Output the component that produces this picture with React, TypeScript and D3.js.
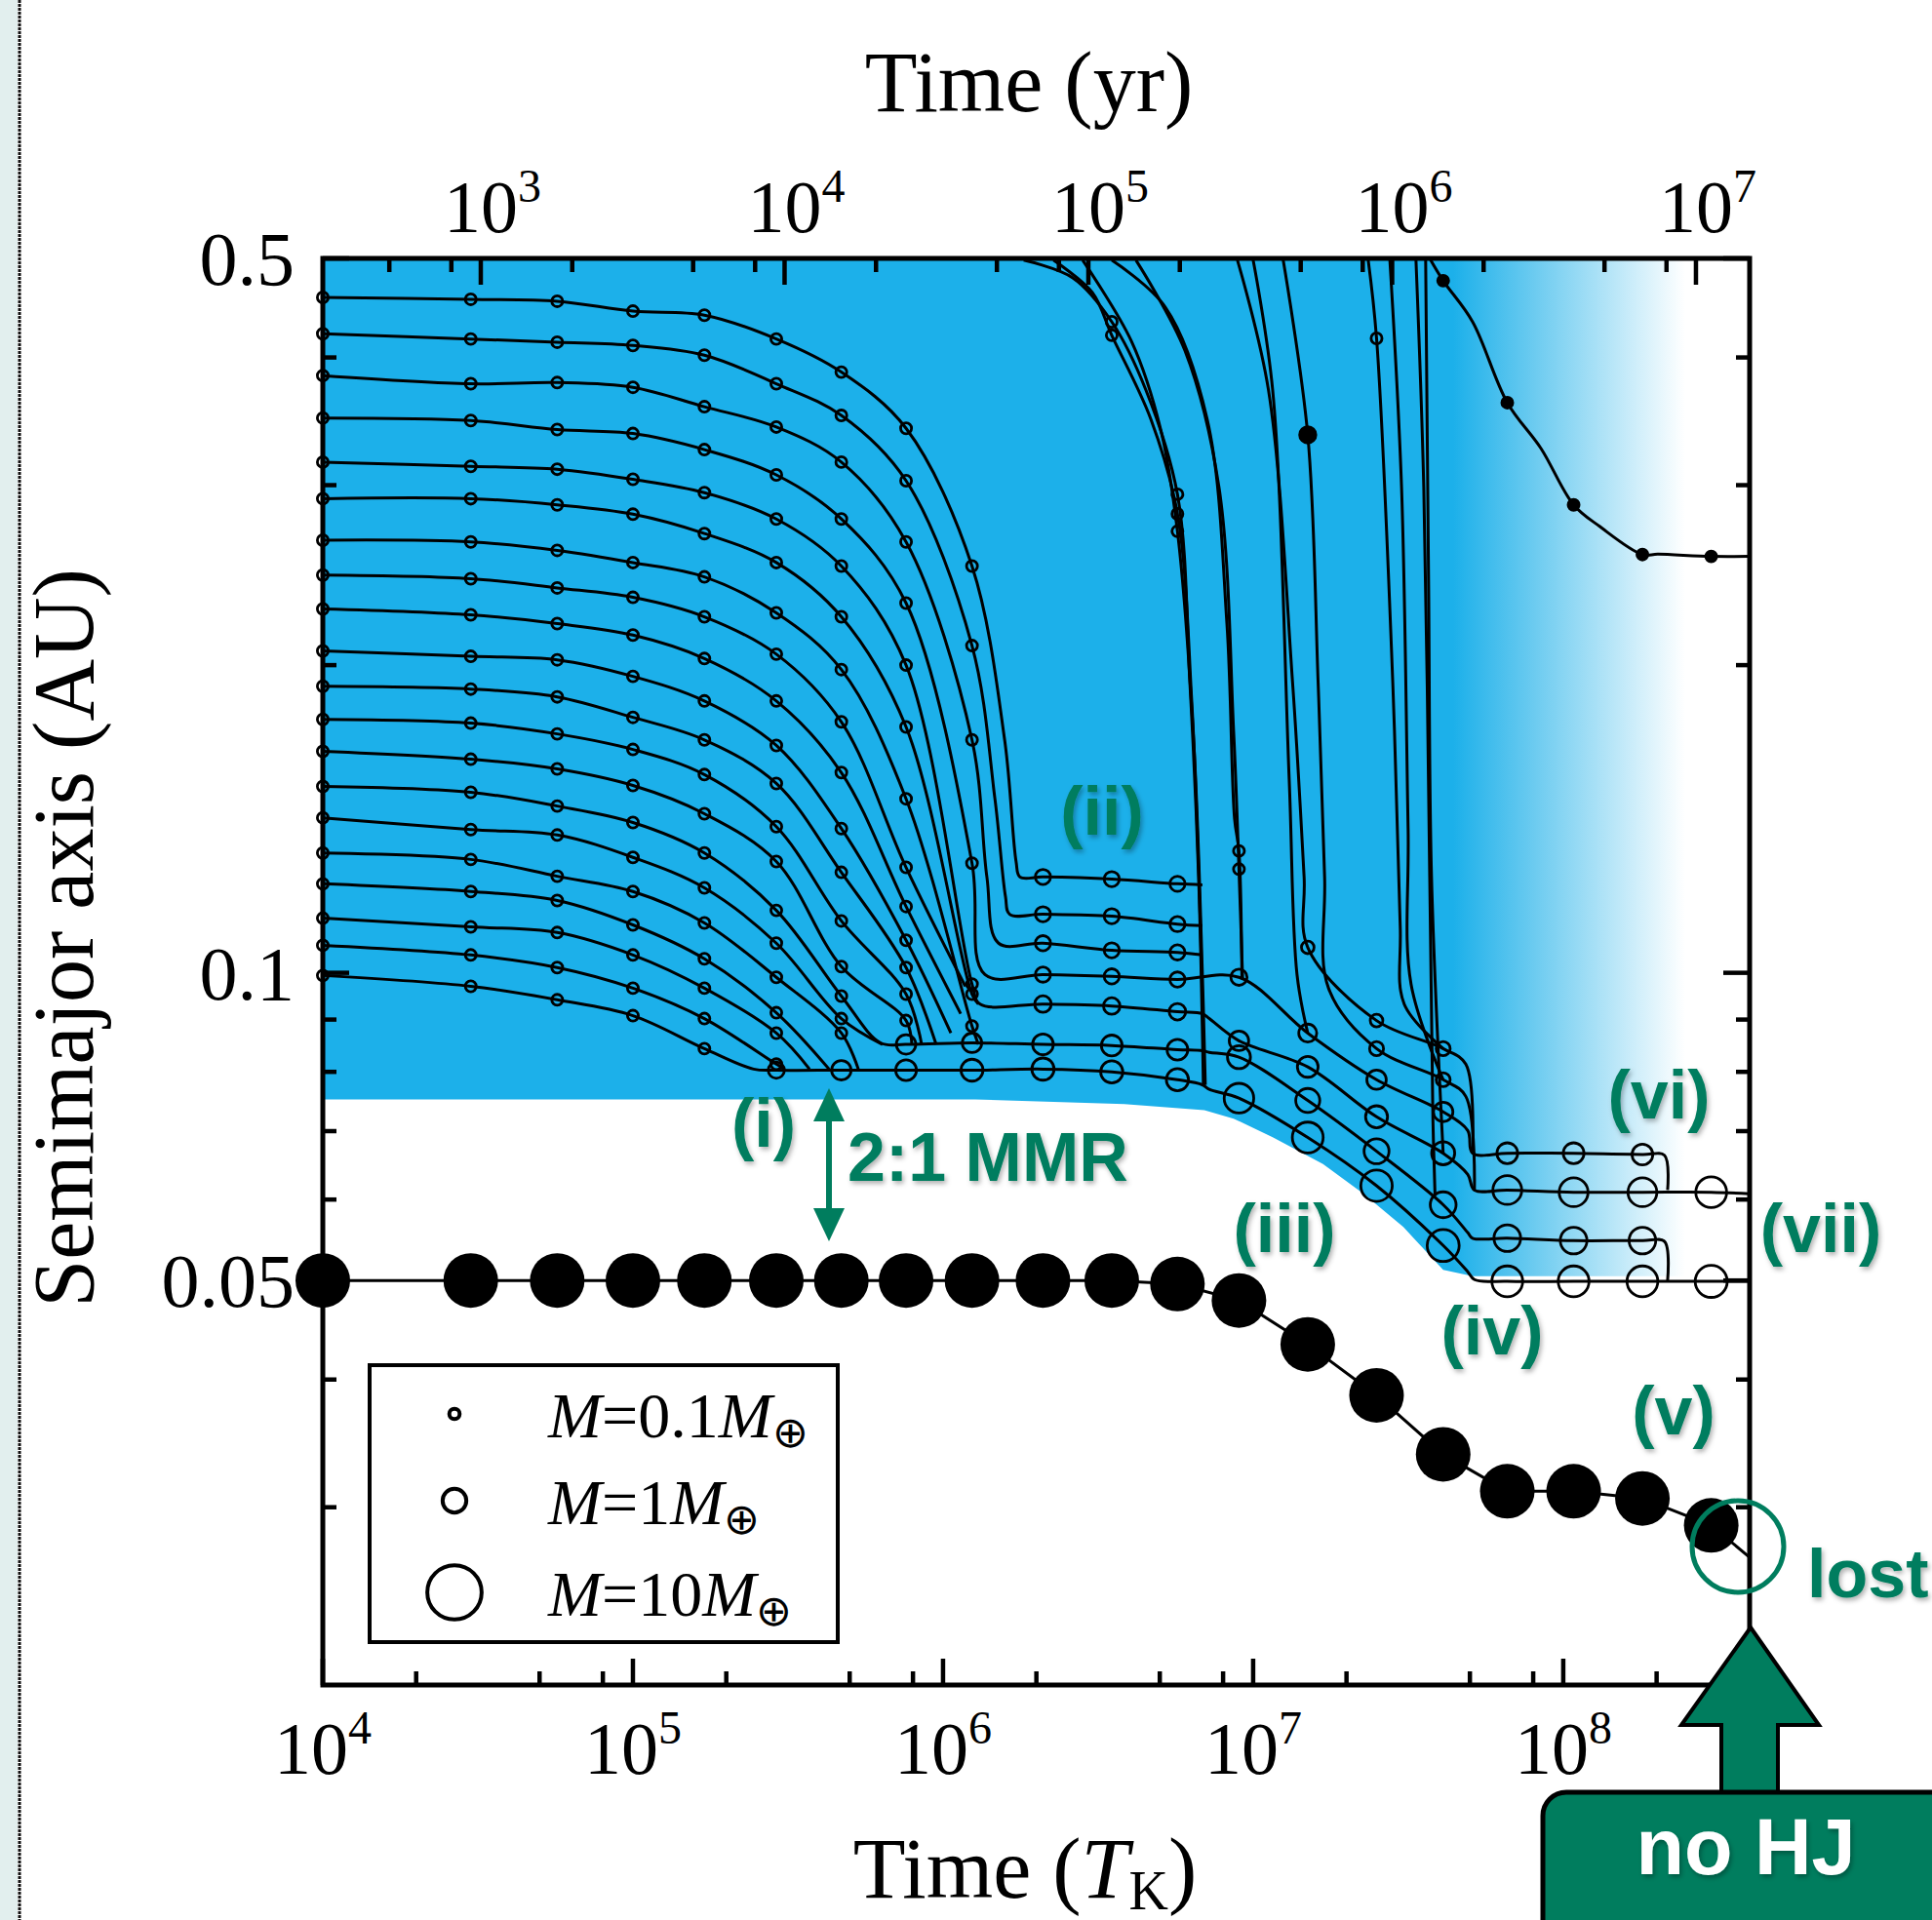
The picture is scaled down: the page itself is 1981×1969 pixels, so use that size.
import React from "react";
import * as d3 from "d3";

const W = 1981;
const H = 1969;
const X0 = 331, X1 = 1794, Y0 = 265, Y1 = 1728;

const BLUE = "#1cb0ea";
const GREEN = "#007d5e";
const SERIF = "'Liberation Serif', 'Times New Roman', serif";
const SANS = "'Liberation Sans', Arial, sans-serif";

// output times (T_K) at which every planet gets a marker
const snapTimes = [1e4, 3e4, 5.7e4, 1e5, 1.7e5, 2.9e5, 4.7e5, 7.6e5, 1.24e6, 2.1e6, 3.5e6, 5.7e6, 9e6, 1.5e7, 2.5e7, 4.1e7, 6.6e7, 1.08e8, 1.8e8, 3e8];

// [time (T_K), semimajor axis (AU), marker mass in M_earth (0 = no marker), solid marker]
type Pt = [number, number, number, boolean?];
type Track = { a: number[]; m: number; tail: Pt[] };

// inner disc planets: a at the first snapshots, then the rest of the path
const trackA: Track = { a: [0.458, 0.456, 0.454, 0.444, 0.440, 0.417, 0.387, 0.341, 0.250], m: 0.1,
  tail: [[1.58e6, 0.169, 0], [1.72e6, 0.1285, 0], [1.77e6, 0.1241, 0], [2.1e6, 0.1241, 0.25], [3.5e6, 0.1235, 0.25], [5.7e6, 0.1222, 0.25], [6.86e6, 0.1219, 0]] };
const trackB: Track = { a: [0.422, 0.417, 0.414, 0.411, 0.402, 0.377, 0.351, 0.303, 0.209], m: 0.1,
  tail: [[1.47e6, 0.148, 0], [1.59e6, 0.1187, 0], [1.64e6, 0.1141, 0], [2.1e6, 0.1141, 0.25], [3.5e6, 0.1136, 0.25], [5.7e6, 0.1116, 0.25], [6.86e6, 0.1112, 0]] };
const trackC: Track = { a: [0.384, 0.377, 0.378, 0.374, 0.358, 0.342, 0.316, 0.264, 0.169], m: 0.1,
  tail: [[1.385e6, 0.1241, 0], [1.51e6, 0.1069, 0], [2.1e6, 0.1069, 0.25], [3.5e6, 0.1052, 0.25], [5.7e6, 0.1047, 0.25], [6.86e6, 0.1041, 0]] };
const trackD: Track = { a: [0.349, 0.347, 0.340, 0.337, 0.325, 0.307, 0.278, 0.230, 0.128], m: 0.1,
  tail: [[1.365e6, 0.0996, 0], [2.1e6, 0.0996, 0.25], [3.5e6, 0.0992, 0.25], [5.7e6, 0.0985, 0.25], [9e6, 0.0990, 0.3],
    [1.5e7, 0.0873, 0.4], [2.5e7, 0.0786, 0.5], [4.1e7, 0.0731, 0.5], [4.92e7, 0.0701, 0], [5.1e7, 0.0666, 0],
    [6.6e7, 0.0666, 0.6], [1.08e8, 0.0666, 0.6], [1.8e8, 0.0664, 0.6], [2.12e8, 0.0663, 0], [2.17e8, 0.0613, 0]] };
const trackE: Track = { a: [0.316, 0.313, 0.311, 0.304, 0.295, 0.278, 0.250, 0.200, 0.0975], m: 0.1,
  tail: [[1.317e6, 0.0932, 0], [2.1e6, 0.0932, 0.32], [3.5e6, 0.0928, 0.32], [5.7e6, 0.0916, 0.32], [6.86e6, 0.0912, 0],
    [7.22e6, 0.0902, 0], [9e6, 0.0858, 0.5], [1.5e7, 0.0809, 0.6], [2.5e7, 0.0723, 0.7], [4.1e7, 0.0666, 0.8],
    [4.92e7, 0.0635, 0], [5.17e7, 0.0613, 0], [6.6e7, 0.0613, 1.5], [1.08e8, 0.0610, 1.5], [1.8e8, 0.0610, 1.5],
    [3e8, 0.0610, 1.8], [3.99e8, 0.0608, 0]] };
const trackF: Track = { a: [0.291, 0.291, 0.287, 0.281, 0.269, 0.252, 0.223, 0.174, 0.0953], m: 0.1, tail: [[1.30e6, 0.0932, 0]] };
const trackG: Track = { a: [0.265, 0.264, 0.259, 0.252, 0.244, 0.225, 0.198, 0.148, 0.0887], m: 0.1, tail: [[1.30e6, 0.0851, 0]] };
const trackH: Track = { a: [0.245, 0.243, 0.238, 0.233, 0.223, 0.205, 0.176, 0.1268], m: 0.1, tail: [[1.18e6, 0.0970, 0]] };
const trackI: Track = { a: [0.227, 0.224, 0.2196, 0.214, 0.203, 0.1845, 0.157, 0.1161], m: 0.1, tail: [[1.14e6, 0.0912, 0]] };
const trackJ: Track = { a: [0.2065, 0.204, 0.2024, 0.195, 0.1845, 0.1669, 0.1384, 0.1076], m: 0.1, tail: [[1.06e6, 0.0873, 0]] };
const trackK: Track = { a: [0.1907, 0.1895, 0.1862, 0.1778, 0.169, 0.1532, 0.1254, 0.1012], m: 0.1, tail: [[9.5e5, 0.0851, 0]] };
const trackL: Track = { a: [0.177, 0.1755, 0.1713, 0.1654, 0.1563, 0.139, 0.1124, 0.0953], m: 0.1, tail: [[8.53e5, 0.0851, 0]] };
const trackM: Track = { a: [0.1647, 0.1618, 0.1583, 0.1525, 0.1431, 0.1285, 0.1014, 0.0898], m: 0.1, tail: [[7.93e5, 0.0851, 0]] };
const trackN: Track = { a: [0.1522, 0.1502, 0.1456, 0.1403, 0.1310, 0.1151, 0.0949], m: 0.1,
  tail: [[6.29e5, 0.0854, 0], [7.6e5, 0.0851, 0.5], [1.24e6, 0.0854, 0.5], [2.1e6, 0.0851, 0.6], [3.5e6, 0.0849, 0.6],
    [5.7e6, 0.0841, 0.6], [6.86e6, 0.0839, 0], [7.22e6, 0.0836, 0], [9e6, 0.0827, 0.8], [1.5e7, 0.0750, 0.9],
    [2.5e7, 0.0669, 1], [4.1e7, 0.0593, 1.1], [4.92e7, 0.0557, 0], [5.1e7, 0.0550, 0], [6.6e7, 0.0550, 1.2],
    [1.08e8, 0.0547, 1.2], [1.8e8, 0.0547, 1.2], [2.12e8, 0.0546, 0], [2.17e8, 0.0500, 0]] };
const trackO: Track = { a: [0.1418, 0.1381, 0.1364, 0.1297, 0.1211, 0.1069, 0.0902], m: 0.1, tail: [[6.38e5, 0.0851, 0]] };
const trackP: Track = { a: [0.1310, 0.1291, 0.1243, 0.1201, 0.1119, 0.0990, 0.0873], m: 0.1, tail: [[5.33e5, 0.0805, 0]] };
const trackQ: Track = { a: [0.1222, 0.1201, 0.1177, 0.1114, 0.1032, 0.0914], m: 0.1, tail: [[4.29e5, 0.0805, 0]] };
const trackR: Track = { a: [0.1131, 0.1109, 0.1095, 0.1041, 0.0966, 0.0873], m: 0.1, tail: [[3.71e5, 0.0805, 0]] };
const trackS: Track = { a: [0.1064, 0.1041, 0.1012, 0.0966, 0.0902, 0.0814], m: 0.1, tail: [[3.09e5, 0.0805, 0]] };
const trackT: Track = { a: [0.0994, 0.0970, 0.0941, 0.0908, 0.0843], m: 0.1,
  tail: [[2.45e5, 0.0805, 0], [2.9e5, 0.0803, 0.3], [4.7e5, 0.0803, 0.5], [7.6e5, 0.0803, 0.6], [1.24e6, 0.0803, 0.7],
    [2.1e6, 0.0805, 0.72], [3.5e6, 0.0800, 0.72], [5.7e6, 0.0786, 0.72], [6.86e6, 0.0777, 0], [7.22e6, 0.0769, 0],
    [9e6, 0.0754, 1.6], [1.5e7, 0.0690, 1.8], [2.5e7, 0.0619, 1.9], [4.1e7, 0.0541, 2], [4.92e7, 0.0510, 0],
    [5.17e7, 0.0501, 0], [6.6e7, 0.0499, 1.8], [1.08e8, 0.0499, 1.8], [1.8e8, 0.0499, 1.8], [3e8, 0.0499, 2], [3.99e8, 0.0499, 0]] };

const discTracks = [trackA, trackB, trackC, trackD, trackE, trackF, trackG, trackH, trackI, trackJ,
  trackK, trackL, trackM, trackN, trackO, trackP, trackQ, trackR, trackS, trackT];

// planets plunging in from beyond 0.5 AU
const plungeA: Pt[] = [[1.82e6, 0.498, 0], [2.62e6, 0.4786, 0], [3.5e6, 0.4335, 0.1], [4.51e6, 0.3717, 0], [5.7e6, 0.2939, 0.1], [6.25e6, 0.1924, 0], [6.67e6, 0.1241, 0], [6.91e6, 0.0777, 0]];
const plungeB: Pt[] = [[2.27e6, 0.498, 0], [3.03e6, 0.463, 0], [3.5e6, 0.4205, 0.1], [4.68e6, 0.348, 0], [5.7e6, 0.2812, 0.1], [6.34e6, 0.1841, 0], [6.76e6, 0.1112, 0], [6.96e6, 0.0777, 0]];
const plungeC: Pt[] = [[2.82e6, 0.498, 0], [4.05e6, 0.415, 0], [5.03e6, 0.3404, 0], [5.7e6, 0.2704, 0.1], [6.43e6, 0.1687, 0], [6.86e6, 0.0996, 0], [7.01e6, 0.0777, 0]];
const plungeD: Pt[] = [[3.5e6, 0.498, 0], [5.21e6, 0.448, 0], [7.11e6, 0.348, 0], [8.23e6, 0.2196, 0], [8.71e6, 0.1415, 0], [9e6, 0.1316, 0.1], [9.2e6, 0.0987, 0]];
const plungeE: Pt[] = [[4.19e6, 0.498, 0], [6.03e6, 0.406, 0], [7.76e6, 0.2985, 0], [8.65e6, 0.1724, 0], [9e6, 0.1263, 0.1], [9.25e6, 0.0985, 0]];
const plungeF: Pt[] = [[8.9e6, 0.498, 0], [1.12e7, 0.372, 0], [1.34e7, 0.1924, 0], [1.46e7, 0.1241, 0], [1.5e7, 0.1059, 0.15], [2.5e7, 0.0898, 0.15], [4.1e7, 0.0843, 0.2], [4.85e7, 0.0814, 0], [5.1e7, 0.0666, 0]];
const plungeG: Pt[] = [[1e7, 0.498, 0], [1.156e7, 0.3717, 0], [1.307e7, 0.1545, 0], [1.385e7, 0.0996, 0], [1.5e7, 0.0873, 0]];
const plungeH: Pt[] = [[1.25e7, 0.498, 0], [1.5e7, 0.336, 0.3, true], [1.62e7, 0.1924, 0], [1.70e7, 0.1241, 0], [1.75e7, 0.0966, 0], [2.5e7, 0.0843, 0.2], [4.1e7, 0.0786, 0.2], [4.85e7, 0.0757, 0], [5.17e7, 0.0613, 0]];
const plungeI: Pt[] = [[2.35e7, 0.498, 0], [2.5e7, 0.4176, 0.1], [2.82e7, 0.1924, 0], [2.98e7, 0.1112, 0], [3.07e7, 0.0932, 0], [4.1e7, 0.0843, 0]];
const plungeJ: Pt[] = [[2.76e7, 0.498, 0], [3.01e7, 0.2985, 0], [3.16e7, 0.1384, 0], [3.23e7, 0.0975, 0], [4.1e7, 0.0786, 0]];
const plungeK: Pt[] = [[3.35e7, 0.498, 0], [3.55e7, 0.2985, 0], [3.71e7, 0.1241, 0], [3.8e7, 0.0717, 0], [3.86e7, 0.0605, 0]];
const plungeL: Pt[] = [[3.6e7, 0.498, 0], [3.68e7, 0.2397, 0], [3.76e7, 0.1241, 0], [4.1e7, 0.0666, 0]];
const outerPlanet: Pt[] = [[3.71e7, 0.5, 0], [4.1e7, 0.4755, 0.1, true], [5.1e7, 0.4335, 0], [6.6e7, 0.3613, 0.1, true], [8.47e7, 0.326, 0],
  [1.08e8, 0.287, 0.1, true], [1.31e8, 0.2734, 0], [1.8e8, 0.2566, 0.1, true], [2.02e8, 0.2568, 0], [3e8, 0.2555, 0.1, true], [3.99e8, 0.2555, 0]];
const plunges = [plungeA, plungeB, plungeC, plungeD, plungeE, plungeF, plungeG, plungeH, plungeI, plungeJ, plungeK, plungeL, outerPlanet];

// hot Jupiter at the snapshots, plus where its track leaves the plot
const hjA = [0.05, 0.05, 0.05, 0.05, 0.05, 0.05, 0.05, 0.05, 0.05, 0.05, 0.05, 0.0496, 0.0478, 0.0433, 0.0386, 0.0338, 0.0311, 0.0311, 0.0306, 0.0288];
const hjEnd: [number, number] = [3.99e8, 0.0268];

// inner edge of the gas disc (blue region lower boundary)
const edgeT = [1e4, 1.27e6, 3.84e6, 6.96e6, 8.65e6, 1.16e7, 1.68e7, 2.27e7, 3.05e7, 4.1e7, 5.1e7, 3.99e8];
const edgeA = [0.0752, 0.0752, 0.0744, 0.0734, 0.0720, 0.0690, 0.0650, 0.0608, 0.0564, 0.0512, 0.0505, 0.0505];

// axes ticks
const xMajor = [1e4, 1e5, 1e6, 1e7, 1e8];
const xMajorExp = ["4", "5", "6", "7", "8"];
const xMinor = [2e4, 5e4, 8e4, 2e5, 5e5, 8e5, 2e6, 5e6, 8e6, 2e7, 5e7, 8e7, 2e8];
const topMajor = [1e3, 1e4, 1e5, 1e6, 1e7];
const topMajorExp = ["3", "4", "5", "6", "7"];
const topMinor = [5e2, 8e2, 2e3, 5e3, 8e3, 2e4, 5e4, 8e4, 2e5, 5e5, 8e5, 2e6, 5e6, 8e6];
const yMajor = [0.5, 0.1, 0.05];
const yMajorLabel = ["0.5", "0.1", "0.05"];
const yMinor = [0.03, 0.04, 0.06, 0.07, 0.08, 0.09, 0.2, 0.3, 0.4];

// legend
const legendMass = [0.1, 1, 10];
const legendLabel = ["0.1", "1", "10"];

function buildTrack(t: Track): Pt[] {
  const pts: Pt[] = t.a.map((v, i) => [snapTimes[i], v, t.m] as Pt);
  return pts.concat(t.tail);
}

export default function App() {
  const x = d3.scaleLog().domain([1e4, 3.99e8]).range([X0, X1]);
  const xTop = d3.scaleLog().domain([302, 1.502e7]).range([X0, X1]);
  const y = d3.scaleLog().domain([0.0201, 0.5]).range([Y1, Y0]);
  const rOf = (m: number) => 12.8 * Math.pow(m, 0.36);

  const path = d3.line<Pt>().x(d => x(d[0])).y(d => y(d[1])).curve(d3.curveCatmullRom.alpha(0.5));
  const tracks: Pt[][] = discTracks.map(buildTrack).concat(plunges);
  const markers = tracks.flatMap(tr => tr.filter(p => p[2] > 0));

  const edge = edgeT.map((t, i) => [t, edgeA[i]] as [number, number]);
  const blueArea = d3.area<[number, number]>().x(d => x(d[0])).y0(Y0).y1(d => y(d[1]))(edge) || "";

  const hjPts: [number, number][] = hjA.map((a, i) => [snapTimes[i], a] as [number, number]).concat([hjEnd]);
  const hjPath = d3.line<[number, number]>().x(d => x(d[0])).y(d => y(d[1]))(hjPts) || "";

  const tickW = 4.5, major = 27, minor = 14;

  return (
    <svg width={W} height={H} viewBox={`0 0 ${W} ${H}`}
      style={{ position: "absolute", left: 0, top: 0, display: "block", background: "#fff" }}>
      <defs>
        <linearGradient id="fade" gradientUnits="userSpaceOnUse" x1={1490} y1={0} x2={1728} y2={0}>
          <stop offset="0" stopColor={BLUE} />
          <stop offset="0.35" stopColor="#6ccbf0" />
          <stop offset="1" stopColor="#ffffff" />
        </linearGradient>
        <filter id="shadow" x="-20%" y="-20%" width="140%" height="150%">
          <feDropShadow dx="2" dy="3" stdDeviation="2.5" floodColor="#000" floodOpacity="0.3" />
        </filter>
      </defs>

      {/* left page edge */}
      <rect x={0} y={0} width={18} height={H} fill="#e2efee" />
      <line x1={20} y1={0} x2={20} y2={H} stroke="#111" strokeWidth={3} strokeDasharray="3 1" />

      {/* gas disc */}
      <path d={blueArea} fill="url(#fade)" />

      {/* planet tracks */}
      <g fill="none" stroke="#000" strokeWidth={3} strokeLinejoin="round">
        {tracks.map((tr, i) => <path key={i} d={path(tr) || ""} />)}
      </g>
      <g stroke="#000" strokeWidth={2.8}>
        {markers.map((p, i) => (
          <circle key={i} cx={x(p[0])} cy={y(p[1])} r={rOf(p[2])} fill={p[3] ? "#000" : "none"} />
        ))}
      </g>

      {/* hot Jupiter */}
      <path d={hjPath} fill="none" stroke="#000" strokeWidth={3} />
      {hjA.map((a, i) => <circle key={i} cx={x(snapTimes[i])} cy={y(a)} r={28} fill="#000" />)}

      {/* frame */}
      <rect x={X0} y={Y0} width={X1 - X0} height={Y1 - Y0} fill="none" stroke="#000" strokeWidth={5} />
      <g stroke="#000" strokeWidth={tickW}>
        {xMajor.map(v => <line key={"bM" + v} x1={x(v)} x2={x(v)} y1={Y1} y2={Y1 - major} />)}
        {xMinor.map(v => <line key={"bm" + v} x1={x(v)} x2={x(v)} y1={Y1} y2={Y1 - minor} />)}
        {topMajor.map(v => <line key={"tM" + v} x1={xTop(v)} x2={xTop(v)} y1={Y0} y2={Y0 + major} />)}
        {topMinor.map(v => <line key={"tm" + v} x1={xTop(v)} x2={xTop(v)} y1={Y0} y2={Y0 + minor} />)}
        {yMajor.map(v => <line key={"lM" + v} x1={X0} x2={X0 + major} y1={y(v)} y2={y(v)} />)}
        {yMinor.map(v => <line key={"lm" + v} x1={X0} x2={X0 + minor} y1={y(v)} y2={y(v)} />)}
        {yMajor.map(v => <line key={"rM" + v} x1={X1} x2={X1 - major} y1={y(v)} y2={y(v)} />)}
        {yMinor.map(v => <line key={"rm" + v} x1={X1} x2={X1 - minor} y1={y(v)} y2={y(v)} />)}
      </g>

      {/* tick labels */}
      <g fontFamily={SERIF} fontSize={76} fill="#000" textAnchor="middle">
        {xMajor.map((v, i) => (
          <text key={"xl" + v} x={x(v)} y={1819}>10<tspan fontSize={48} dy={-31}>{xMajorExp[i]}</tspan></text>
        ))}
        {topMajor.map((v, i) => (
          <text key={"tl" + v} x={xTop(v) + 12} y={238}>10<tspan fontSize={48} dy={-31}>{topMajorExp[i]}</tspan></text>
        ))}
      </g>
      <g fontFamily={SERIF} fontSize={78} fill="#000" textAnchor="end">
        {yMajor.map((v, i) => <text key={"yl" + v} x={302} y={y(v) + 27}>{yMajorLabel[i]}</text>)}
      </g>

      {/* axis titles */}
      <g fontFamily={SERIF} fontSize={88} fill="#000" textAnchor="middle">
        <text x={1055} y={114}>Time (yr)</text>
        <text x={1051} y={1946}>Time (<tspan fontStyle="italic">T</tspan><tspan fontSize={56} dy={12}>K</tspan><tspan dy={-12}>)</tspan></text>
        <text transform="translate(95,962) rotate(-90)">Semimajor axis (AU)</text>
      </g>

      {/* legend */}
      <rect x={379} y={1400} width={480} height={284} fill="#fff" stroke="#000" strokeWidth={4} />
      {legendMass.map((m, i) => {
        const cy = [1450, 1539, 1633][i];
        return (
          <g key={"lg" + i}>
            <circle cx={466} cy={cy} r={rOf(m) * 0.95} fill="none" stroke="#000" strokeWidth={4} />
            <text x={562} y={cy + 24} fontFamily={SERIF} fontSize={66}>
              <tspan fontStyle="italic">M</tspan>={legendLabel[i]}<tspan fontStyle="italic">M</tspan>
              <tspan fontSize={44} dy={10}>⊕</tspan>
            </text>
          </g>
        );
      })}

      {/* annotations */}
      <g fontFamily={SANS} fontWeight="bold" fontSize={70} fill={GREEN} filter="url(#shadow)">
        <text x={783} y={1176} textAnchor="middle">(i)</text>
        <text x={869} y={1211}>2:1 MMR</text>
        <text x={1130} y={856} textAnchor="middle">(ii)</text>
        <text x={1317} y={1284} textAnchor="middle">(iii)</text>
        <text x={1530} y={1389} textAnchor="middle">(iv)</text>
        <text x={1716} y={1471} textAnchor="middle">(v)</text>
        <text x={1701} y={1147} textAnchor="middle">(vi)</text>
        <text x={1867} y={1284} textAnchor="middle">(vii)</text>
        <text x={1853} y={1638}>lost</text>
      </g>
      {/* 2:1 resonance arrow */}
      <g fill={GREEN} stroke="none">
        <line x1={850} x2={850} y1={1140} y2={1250} stroke={GREEN} strokeWidth={6} />
        <polygon points="850,1116 834,1150 866,1150" />
        <polygon points="850,1273 834,1239 866,1239" />
      </g>
      <circle cx={1782} cy={1586} r={47} fill="none" stroke={GREEN} strokeWidth={5} />

      {/* no HJ arrow and box */}
      <polygon points="1795,1669 1865,1769 1823,1769 1823,1842 1765,1842 1765,1769 1724,1769"
        fill={GREEN} stroke="#000" strokeWidth={4} strokeLinejoin="miter" />
      <rect x={1582} y={1838} width={520} height={300} rx={24} fill={GREEN} stroke="#000" strokeWidth={5} />
      <text x={1790} y={1922} fontFamily={SANS} fontWeight="bold" fontSize={81} fill="#fff"
        textAnchor="middle" filter="url(#shadow)">no HJ</text>
    </svg>
  );
}
